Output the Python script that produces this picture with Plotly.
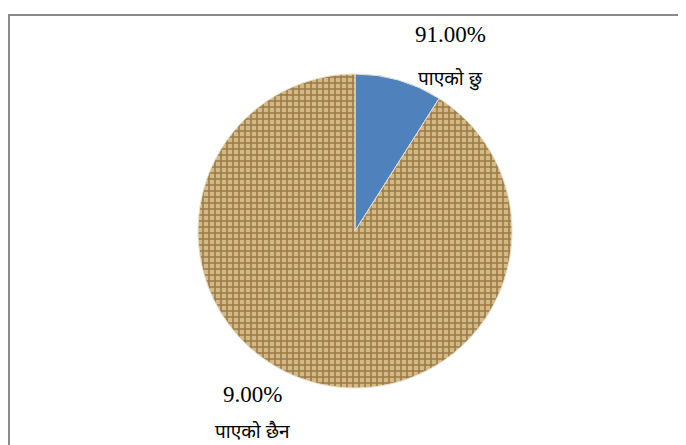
import plotly.graph_objects as go

# Data
categories = ["पाएको छु", "पाएको छैन"]
values = [9, 91]
pct_labels = ["91.00%", "9.00%"]
label_names = ["पाएको छु", "पाएको छैन"]

W, H = 686, 445
OFF = 8  # page body margin offset of the rendered figure


def px(x):
    return (x - OFF) / W


def py(y):
    return 1 - (y - OFF) / H


fig = go.Figure()
fig.add_trace(go.Pie(
    labels=categories,
    values=values,
    sort=False,
    direction="clockwise",
    rotation=0,
    textinfo="none",
    hoverinfo="label+percent",
    showlegend=False,
    domain=dict(x=[px(198), px(512)], y=[py(388), py(74)]),
    marker=dict(
        colors=["#4F81BD", "#C9AD78"],
        line=dict(color="#E8E0D0", width=1),
        pattern=dict(
            shape=["", "+"],
            fgcolor=["#4F81BD", "#9A7946"],
            bgcolor=["#4F81BD", "#D3B984"],
            size=6,
            solidity=0.45,
            fillmode="replace",
        ),
    ),
))

# Labels (positions in reference pixels from the top-left)
label_pos = [(450, 35, 78), (252, 394, 431)]
num_font = dict(family="Liberation Serif, DejaVu Serif, serif", size=23, color="#000000")
dev_font = dict(family="Noto Sans, Noto Serif Devanagari, Noto Sans Devanagari, sans-serif", size=19, color="#000000")
for (lx, ly_num, ly_name), pct, name in zip(label_pos, pct_labels, label_names):
    fig.add_annotation(x=px(lx), y=py(ly_num), xref="paper", yref="paper",
                       text=pct, showarrow=False, font=num_font,
                       xanchor="center", yanchor="middle")
    fig.add_annotation(x=px(lx), y=py(ly_name), xref="paper", yref="paper",
                       text=name, showarrow=False, font=dev_font,
                       xanchor="center", yanchor="middle")

# Frame border (extends beyond the visible area on right and bottom)
fig.add_shape(type="rect", xref="paper", yref="paper",
              x0=px(9), x1=1.05, y0=-0.1, y1=py(15),
              line=dict(color="#8A8A8A", width=2), fillcolor="rgba(0,0,0,0)",
              layer="below")

fig.update_layout(
    width=W, height=H,
    margin=dict(l=0, r=0, t=0, b=0),
    paper_bgcolor="white",
    plot_bgcolor="white",
)

fig.write_html("out.html")
